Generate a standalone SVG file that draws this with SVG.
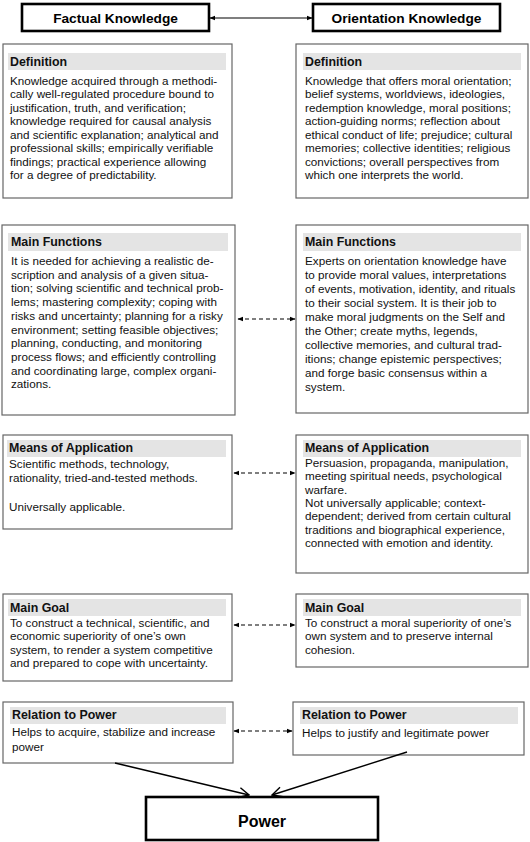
<svg xmlns="http://www.w3.org/2000/svg" width="530" height="842" viewBox="0 0 530 842">
<style>
.box{fill:#fff;stroke:#666;stroke-width:1.2}
.band{fill:#e4e4e4}
.hdr{fill:#fff;stroke:#000;stroke-width:2.6}
.t{font-family:"Liberation Sans",Arial,sans-serif;font-size:11.7px;fill:#111}
.h{font-family:"Liberation Sans",Arial,sans-serif;font-size:12.4px;font-weight:bold;fill:#111}
.big{font-family:"Liberation Sans",Arial,sans-serif;font-size:13.7px;font-weight:bold;fill:#000;text-anchor:middle}
.dash{stroke:#000;stroke-width:1.1;stroke-dasharray:4 3;fill:none;marker-start:url(#ah);marker-end:url(#ah)}
</style>
<defs>
<marker id="ah" viewBox="0 0 10 10" refX="9" refY="5" markerWidth="6" markerHeight="6" orient="auto-start-reverse" markerUnits="userSpaceOnUse"><path d="M0,1 L10,5 L0,9 Z" fill="#000"/></marker>
<marker id="va" viewBox="0 0 12 12" refX="11" refY="6" markerWidth="12" markerHeight="12" orient="auto" markerUnits="userSpaceOnUse"><path d="M1,1 L11,6 L1,11" fill="none" stroke="#000" stroke-width="1.4"/></marker>
</defs>

<g id="factual">
<rect class="hdr" x="22" y="4" width="187" height="27"/>
<text class="big" x="115.5" y="22.5">Factual Knowledge</text>
</g>
<g id="orientation">
<rect class="hdr" x="313" y="4" width="187" height="27"/>
<text class="big" x="406.5" y="22.5">Orientation Knowledge</text>
</g>

<g id="def-left">
<rect class="box" x="3" y="44" width="229" height="154"/>
<rect class="band" x="8" y="53" width="218" height="17"/>
<text class="h" x="10" y="65.5">Definition</text>
<text class="t" x="10" y="84.5">
<tspan x="10">Knowledge acquired through a methodi-</tspan>
<tspan x="10" dy="13.5">cally well-regulated procedure bound to</tspan>
<tspan x="10" dy="13.5">justification, truth, and verification;</tspan>
<tspan x="10" dy="13.5">knowledge required for causal analysis</tspan>
<tspan x="10" dy="13.5">and scientific explanation; analytical and</tspan>
<tspan x="10" dy="13.5">professional skills; empirically verifiable</tspan>
<tspan x="10" dy="13.5">findings; practical experience allowing</tspan>
<tspan x="10" dy="13.5">for a degree of predictability.</tspan>
</text>
</g>
<g id="def-right">
<rect class="box" x="296" y="44" width="232" height="154"/>
<rect class="band" x="303" y="53" width="218" height="17"/>
<text class="h" x="305" y="65.5">Definition</text>
<text class="t" x="305" y="84.5">
<tspan x="305">Knowledge that offers moral orientation;</tspan>
<tspan x="305" dy="13.5">belief systems, worldviews, ideologies,</tspan>
<tspan x="305" dy="13.5">redemption knowledge, moral positions;</tspan>
<tspan x="305" dy="13.5">action-guiding norms; reflection about</tspan>
<tspan x="305" dy="13.5">ethical conduct of life; prejudice; cultural</tspan>
<tspan x="305" dy="13.5">memories; collective identities; religious</tspan>
<tspan x="305" dy="13.5">convictions; overall perspectives from</tspan>
<tspan x="305" dy="13.5">which one interprets the world.</tspan>
</text>
</g>

<g id="func-left">
<rect class="box" x="2" y="225" width="233" height="190"/>
<rect class="band" x="8" y="233" width="220" height="18"/>
<text class="h" x="11" y="246">Main Functions</text>
<text class="t" x="11" y="265">
<tspan x="11">It is needed for achieving a realistic de-</tspan>
<tspan x="11" dy="13.7">scription and analysis of a given situa-</tspan>
<tspan x="11" dy="13.7">tion; solving scientific and technical prob-</tspan>
<tspan x="11" dy="13.7">lems; mastering complexity; coping with</tspan>
<tspan x="11" dy="13.7">risks and uncertainty; planning for a risky</tspan>
<tspan x="11" dy="13.7">environment; setting feasible objectives;</tspan>
<tspan x="11" dy="13.7">planning, conducting, and monitoring</tspan>
<tspan x="11" dy="13.7">process flows; and efficiently controlling</tspan>
<tspan x="11" dy="13.7">and coordinating large, complex organi-</tspan>
<tspan x="11" dy="13.7">zations.</tspan>
</text>
</g>
<g id="func-right">
<rect class="box" x="296" y="225" width="232" height="188"/>
<rect class="band" x="303" y="233" width="218" height="18"/>
<text class="h" x="305" y="246">Main Functions</text>
<text class="t" x="305" y="264.5">
<tspan x="305">Experts on orientation knowledge have</tspan>
<tspan x="305" dy="14">to provide moral values, interpretations</tspan>
<tspan x="305" dy="14">of events, motivation, identity, and rituals</tspan>
<tspan x="305" dy="14">to their social system. It is their job to</tspan>
<tspan x="305" dy="14">make moral judgments on the Self and</tspan>
<tspan x="305" dy="14">the Other; create myths, legends,</tspan>
<tspan x="305" dy="14">collective memories, and cultural trad-</tspan>
<tspan x="305" dy="14">itions; change epistemic perspectives;</tspan>
<tspan x="305" dy="14">and forge basic consensus within a</tspan>
<tspan x="305" dy="14">system.</tspan>
</text>
</g>

<g id="means-left">
<rect class="box" x="3" y="435" width="229" height="94"/>
<rect class="band" x="7" y="440" width="219" height="17"/>
<text class="h" x="9" y="452">Means of Application</text>
<text class="t" x="9" y="468">
<tspan x="9">Scientific methods, technology,</tspan>
<tspan x="9" dy="14">rationality, tried-and-tested methods.</tspan>
<tspan x="9" dy="29">Universally applicable.</tspan>
</text>
</g>
<g id="means-right">
<rect class="box" x="296" y="435" width="232" height="138"/>
<rect class="band" x="303" y="440" width="218" height="17"/>
<text class="h" x="305" y="452">Means of Application</text>
<text class="t" x="305" y="467">
<tspan x="305">Persuasion, propaganda, manipulation,</tspan>
<tspan x="305" dy="13.3">meeting spiritual needs, psychological</tspan>
<tspan x="305" dy="13.3">warfare.</tspan>
<tspan x="305" dy="13.3">Not universally applicable; context-</tspan>
<tspan x="305" dy="13.3">dependent; derived from certain cultural</tspan>
<tspan x="305" dy="13.3">traditions and biographical experience,</tspan>
<tspan x="305" dy="13.3">connected with emotion and identity.</tspan>
</text>
</g>

<g id="goal-left">
<rect class="box" x="3" y="594" width="229" height="87"/>
<rect class="band" x="8" y="599" width="218" height="17"/>
<text class="h" x="10" y="611.5">Main Goal</text>
<text class="t" x="10" y="627">
<tspan x="10">To construct a technical, scientific, and</tspan>
<tspan x="10" dy="13.3">economic superiority of one’s own</tspan>
<tspan x="10" dy="13.3">system, to render a system competitive</tspan>
<tspan x="10" dy="13.3">and prepared to cope with uncertainty.</tspan>
</text>
</g>
<g id="goal-right">
<rect class="box" x="296" y="594" width="232" height="73"/>
<rect class="band" x="303" y="599" width="218" height="17"/>
<text class="h" x="305" y="611.5">Main Goal</text>
<text class="t" x="305" y="627">
<tspan x="305">To construct a moral superiority of one’s</tspan>
<tspan x="305" dy="13.3">own system and to preserve internal</tspan>
<tspan x="305" dy="13.3">cohesion.</tspan>
</text>
</g>

<g id="rel-left">
<rect class="box" x="3" y="702" width="230" height="61"/>
<rect class="band" x="10" y="707" width="216" height="17"/>
<text class="h" x="12" y="719">Relation to Power</text>
<text class="t" x="12" y="736">
<tspan x="12">Helps to acquire, stabilize and increase</tspan>
<tspan x="12" dy="14.5">power</tspan>
</text>
</g>
<g id="rel-right">
<rect class="box" x="293" y="702" width="231" height="53"/>
<rect class="band" x="300" y="707" width="218" height="17"/>
<text class="h" x="302" y="719">Relation to Power</text>
<text class="t" x="302" y="737">Helps to justify and legitimate power</text>
</g>

<g id="power">
<rect class="hdr" x="146" y="797" width="232" height="43" stroke-width="2.8"/>
<text class="big" x="262" y="827" style="font-size:16px">Power</text>
</g>

<g id="connectors">
<line x1="210" y1="18" x2="312" y2="18" stroke="#000" stroke-width="1.1" marker-start="url(#ah)" marker-end="url(#ah)"/>
<line class="dash" x1="238" y1="319" x2="295" y2="319"/>
<line class="dash" x1="234" y1="473" x2="295" y2="473"/>
<line class="dash" x1="234" y1="625" x2="295" y2="625"/>
<line class="dash" x1="234" y1="731" x2="292" y2="731"/>
<line x1="115" y1="763" x2="249" y2="795" stroke="#000" stroke-width="1.4" marker-end="url(#va)"/>
<line x1="407" y1="752" x2="272" y2="795" stroke="#000" stroke-width="1.4" marker-end="url(#va)"/>
</g>
</svg>
